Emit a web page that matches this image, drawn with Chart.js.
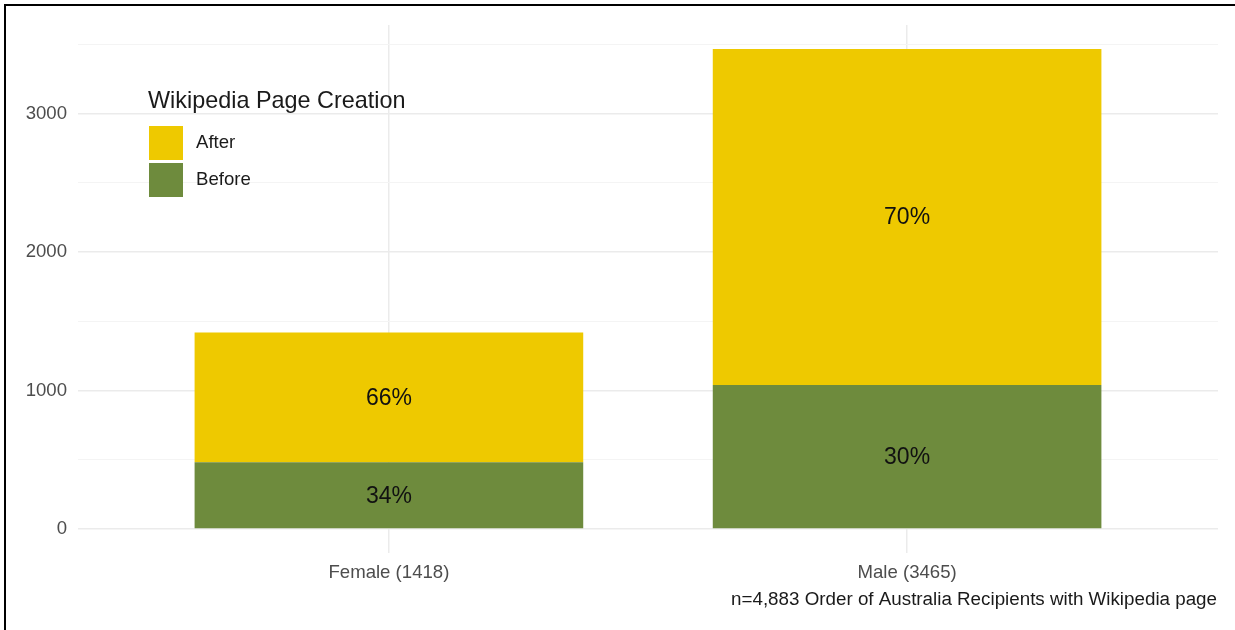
<!DOCTYPE html>
<html>
<head>
<meta charset="utf-8">
<title>Wikipedia Page Creation by Gender</title>
<script src="https://cdn.jsdelivr.net/npm/chart.js@4"></script>
<style>
    html, body { margin: 0; padding: 0; background: #fff; }
    #wrap { position: relative; width: 1235px; height: 630px; overflow: hidden; }
    #frame { position: absolute; left: 4px; top: 4px; width: 1300px; height: 700px;
             border-top: 2px solid #000; border-left: 2px solid #000; pointer-events: none; }
</style>
</head>
<body>
<div id="wrap">
    <canvas id="chart" width="1235" height="630"></canvas>
    <div id="frame"></div>
</div>
<script>
// ===================== DATA =====================
const groups = ['Female (1418)', 'Male (3465)'];
const groupPos = [1, 2];
const beforeCounts = [482, 1040];
const afterCounts = [936, 2425];
const seriesNames = ['Before', 'After'];
const seriesColors = ['#6E8B3D', '#EEC900'];
const yTicks = [0, 500, 1000, 1500, 2000, 2500, 3000, 3500];
const yLabels = [0, 1000, 2000, 3000];
const legendTitle = 'Wikipedia Page Creation';
const caption = 'n=4,883 Order of Australia Recipients with Wikipedia page';

const FONT = "'Liberation Sans', Arial, Helvetica, sans-serif";
const totals = groupPos.map((_, i) => beforeCounts[i] + afterCounts[i]);
const maxTotal = Math.max(...totals);

// percent text in the middle of each segment
const segmentLabels = {
    id: 'segmentLabels',
    afterDatasetsDraw(chart) {
        const ctx = chart.ctx;
        ctx.save();
        ctx.font = '23px ' + FONT;
        ctx.fillStyle = '#111';
        ctx.textAlign = 'center';
        ctx.textBaseline = 'middle';
        chart.data.datasets.forEach((ds, d) => {
            chart.getDatasetMeta(d).data.forEach((bar, i) => {
                const pct = Math.round(ds.data[i].y / totals[i] * 100);
                ctx.fillText(pct + '%', bar.x, (bar.y + bar.base) / 2 + 1);
            });
        });
        ctx.restore();
    }
};

// legend inside the panel, top-left, After listed first
const insideLegend = {
    id: 'insideLegend',
    afterDraw(chart) {
        const ctx = chart.ctx;
        ctx.save();
        ctx.fillStyle = '#1a1a1a';
        ctx.textBaseline = 'middle';
        ctx.textAlign = 'left';
        ctx.font = '23.4px ' + FONT;
        ctx.fillText(legendTitle, 148, 102);
        const order = [1, 0];
        order.forEach((s, k) => {
            const y = 126 + k * 37;
            ctx.fillStyle = seriesColors[s];
            ctx.fillRect(149, y, 34, 34);
            ctx.fillStyle = '#1a1a1a';
            ctx.font = '18.6px ' + FONT;
            ctx.fillText(seriesNames[s], 196, y + 17);
        });
        ctx.restore();
    }
};

const captionText = {
    id: 'captionText',
    afterDraw(chart) {
        const ctx = chart.ctx;
        ctx.save();
        ctx.font = '18.8px ' + FONT;
        ctx.fillStyle = '#1a1a1a';
        ctx.textAlign = 'right';
        ctx.textBaseline = 'middle';
        ctx.fillText(caption, 1217, 600);
        ctx.restore();
    }
};

const makeSeries = vals => groupPos.map((x, i) => ({ x: x, y: vals[i] }));

new Chart(document.getElementById('chart'), {
    type: 'bar',
    data: {
        datasets: [
            { label: seriesNames[0], data: makeSeries(beforeCounts), backgroundColor: seriesColors[0] },
            { label: seriesNames[1], data: makeSeries(afterCounts), backgroundColor: seriesColors[1] }
        ]
    },
    options: {
        responsive: false,
        animation: false,
        categoryPercentage: 1,
        barPercentage: 0.75,
        layout: { padding: { top: 25, right: 17, bottom: 47, left: 0 } },
        plugins: {
            legend: { display: false },
            tooltip: { enabled: false }
        },
        scales: {
            x: {
                type: 'linear',
                stacked: true,
                offset: false,
                min: 0.4,
                max: 2.6,
                afterBuildTicks: axis => { axis.ticks = groupPos.map(v => ({ value: v })); },
                afterFit: scale => { scale.height = 30; },
                border: { display: false },
                grid: { offset: false, color: '#ebebeb', lineWidth: 1.5, drawTicks: false },
                ticks: {
                    autoSkip: false,
                    maxRotation: 0,
                    padding: 9,
                    color: '#4d4d4d',
                    font: { family: FONT, size: 18.6 },
                    callback: v => groups[groupPos.indexOf(v)] || ''
                }
            },
            y: {
                stacked: true,
                min: -maxTotal * 0.05,
                max: maxTotal * 1.05,
                afterBuildTicks: axis => { axis.ticks = yTicks.map(v => ({ value: v })); },
                afterFit: scale => { scale.width = 78; },
                border: { display: false },
                grid: {
                    drawTicks: false,
                    color: c => (c.tick && c.tick.value % 1000 === 0) ? '#ebebeb' : '#f4f4f4',
                    lineWidth: c => (c.tick && c.tick.value % 1000 === 0) ? 1.5 : 1
                },
                ticks: {
                    padding: 11,
                    color: '#4d4d4d',
                    font: { family: FONT, size: 18.6 },
                    callback: v => yLabels.includes(v) ? String(v) : ''
                }
            }
        }
    },
    plugins: [segmentLabels, insideLegend, captionText]
});
</script>
</body>
</html>
